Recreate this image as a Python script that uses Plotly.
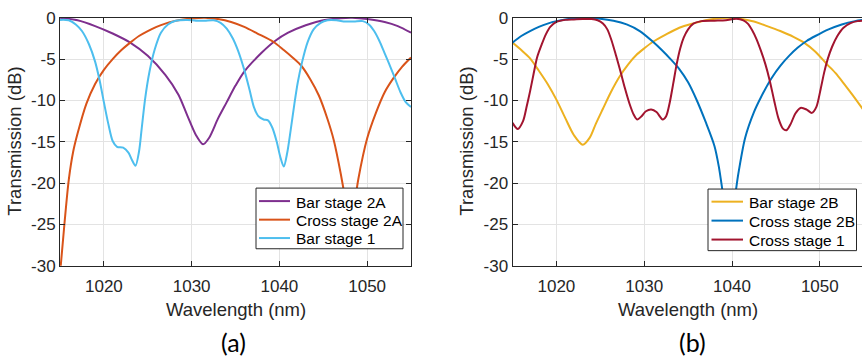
import plotly.graph_objects as go

# ---------------- data ----------------
# Panel (a)
bar2a_x = [1015, 1017, 1019, 1021, 1023, 1025, 1027, 1028.5, 1029.5, 1030.5, 1031.3, 1032, 1033, 1034,
           1035, 1036, 1038, 1039.5, 1041, 1043, 1045, 1047, 1048.3, 1050, 1052, 1053.5, 1055]
bar2a_y = [0, -0.3, -1.0, -1.9, -3.0, -4.6, -6.9, -9.3, -11.8, -14.2, -15.3, -14.5, -12.2, -10.2,
           -8.2, -6.5, -4.2, -2.8, -1.8, -0.9, -0.3, -0.05, 0, -0.15, -0.5, -1.0, -1.8]

cross2a_x = [1015, 1015.5, 1016, 1016.5, 1017, 1018, 1019, 1020, 1021, 1022, 1023, 1024, 1025, 1026,
             1027, 1028, 1029, 1030, 1031.5, 1033, 1034.5, 1036, 1037.5, 1039.3, 1040.5, 1041.5,
             1042.5, 1043.5, 1044.5, 1045.5, 1046.2, 1047, 1047.5, 1048, 1048.5, 1049, 1050, 1051,
             1052, 1053, 1054, 1055]
cross2a_y = [-31, -25, -19.6, -16.2, -14, -10.4, -8.0, -6.3, -5.0, -3.9, -3.0, -2.2, -1.6, -1.1,
             -0.7, -0.4, -0.2, -0.08, 0, -0.15, -0.5, -1.1, -1.9, -2.9, -3.9, -4.8,
             -5.8, -7.4, -9.4, -12.3, -14.8, -18.9, -22, -26, -23, -19.5, -14.6, -11.5,
             -9.0, -7.3, -5.9, -4.8]

bar1_x = [1015, 1016, 1016.8, 1017.5, 1018.3, 1019, 1019.5, 1020, 1020.5, 1021, 1021.5, 1022.2,
          1022.8, 1023.2, 1023.6, 1024, 1024.3, 1024.7, 1025.2, 1025.8, 1026.5, 1027.3, 1028.2,
          1029.5, 1030.5, 1031.5, 1032.5, 1033.3, 1034, 1034.7, 1035.3, 1036, 1036.6, 1037.1,
          1037.6, 1038.2, 1038.7, 1039.2, 1039.7, 1040.1, 1040.5, 1040.9, 1041.3, 1041.7, 1042.1,
          1042.6, 1043.2, 1043.9, 1044.7, 1045.5, 1046.5, 1047.5, 1048.5, 1049.5, 1050.2, 1050.8,
          1051.4, 1052, 1052.6, 1053.2, 1053.8, 1054.4, 1055]
bar1_y = [-0.25, -0.3, -0.8, -1.6, -3.2, -5.3, -7.5, -10.2, -12.8, -14.9, -15.6, -15.7,
          -16.3, -17.2, -17.9, -16.2, -13.5, -9.8, -6.5, -3.8, -1.8, -0.8, -0.35,
          -0.25, -0.35, -0.35, -0.3, -0.6, -1.3, -2.5, -4.0, -6.3, -8.7, -10.8,
          -11.9, -12.3, -12.4, -13.3, -15.0, -16.8, -18.0, -16.3, -13.5, -10.5, -7.8,
          -5.3, -3.0, -1.4, -0.6, -0.3, -0.3, -0.45, -0.45, -0.4, -0.8, -1.6,
          -2.8, -4.3, -5.8, -7.4, -9.0, -10.2, -10.8]

# Panel (b)
bar2b_x = [1015, 1016, 1017, 1018, 1019, 1020, 1021, 1022, 1023, 1023.8, 1024.5, 1025.3, 1026.2,
           1027.2, 1028.2, 1029.1, 1030, 1031, 1032.5, 1034, 1035.5, 1037, 1038.3, 1039.7, 1041,
           1042.5, 1044, 1045.5, 1047, 1048.2, 1049.5, 1050.8, 1051.8, 1052.7, 1053.7, 1055]
bar2b_y = [-3.0, -3.9, -4.9, -6.4, -8.0, -9.9, -12.1, -14.2, -15.35, -14.5, -12.8, -11.0, -9.0,
           -7.1, -5.6, -4.5, -3.7, -2.9, -2.0, -1.2, -0.7, -0.3, -0.08, 0, -0.1,
           -0.45, -1.0, -1.6, -2.3, -3.0, -4.1, -5.6, -6.7, -7.9, -9.3, -11.2]

cross2b_x = [1015, 1016, 1017, 1018, 1019, 1020, 1021, 1022, 1023.5, 1025, 1026.5, 1028, 1029.5,
             1031, 1032, 1033, 1034, 1035, 1036, 1037, 1038, 1038.5, 1039, 1039.7, 1040.3, 1040.7,
             1041.5, 1042.5, 1043.3, 1044.5, 1045.5, 1046.5, 1047.5, 1048.5, 1049.5, 1051, 1052.5,
             1054, 1055]
cross2b_y = [-3.0, -2.2, -1.6, -1.1, -0.7, -0.4, -0.2, -0.05, 0, -0.1, -0.35, -0.8, -1.6,
             -2.9, -3.9, -5.0, -6.2, -7.8, -10.0, -12.6, -15.5, -18, -21.5, -26, -22, -19,
             -14.5, -11.4, -9.6, -7.3, -5.8, -4.6, -3.6, -2.8, -2.2, -1.4, -0.8,
             -0.4, -0.25]

cross1_x = [1015, 1015.6, 1016.2, 1016.6, 1017, 1017.4, 1017.8, 1018.3, 1018.8, 1019.3, 1020, 1021,
            1022, 1023, 1024, 1024.7, 1025.3, 1025.8, 1026.3, 1026.8, 1027.3, 1027.8, 1028.3,
            1028.8, 1029.2, 1029.7, 1030.2, 1030.8, 1031.4, 1032.1, 1032.5, 1032.9, 1033.3,
            1033.7, 1034.1, 1034.5, 1035, 1035.6, 1036.5, 1038, 1039.3, 1040.5, 1041.3, 1041.8,
            1042.3, 1042.8, 1043.3, 1043.8, 1044.3, 1044.8, 1045.3, 1045.8, 1046.2, 1046.7,
            1047.2, 1047.8, 1048.5, 1049.1, 1049.6, 1050.1, 1050.5, 1050.9, 1051.4, 1052,
            1052.7, 1053.5, 1054.3, 1055]
cross1_y = [-12.7, -13.45, -12.5, -10.8, -8.9, -6.8, -4.8, -3.3, -2.0, -1.1, -0.5, -0.25,
            -0.2, -0.15, -0.15, -0.3, -0.7, -1.4, -2.8, -4.6, -6.5, -8.5, -10.3,
            -11.7, -12.3, -11.9, -11.3, -11.1, -11.4, -12.3, -11.9, -10.3, -8.0,
            -5.6, -3.7, -2.4, -1.4, -0.7, -0.4, -0.35, -0.3, -0.1, -0.3, -0.7,
            -1.5, -2.6, -4.0, -5.6, -7.6, -10.0, -12.2, -13.4, -13.6, -12.8,
            -11.6, -10.9, -11.1, -11.5, -10.8, -8.6, -6.6, -5.0, -3.5, -2.2,
            -1.2, -0.65, -0.4, -0.35]

x_ticks = [1020, 1030, 1040, 1050]
y_ticks = [0, -5, -10, -15, -20, -25, -30]
y_tick_labels = ["0", "-5", "-10", "-15", "-20", "-25", "-30"]

names_a = ["Bar stage 2A", "Cross stage 2A", "Bar stage 1"]
names_b = ["Bar stage 2B", "Cross stage 2B", "Cross stage 1"]
colors_a = ["#7E2F8E", "#D95319", "#4DBEEE"]
colors_b = ["#EDB120", "#0072BD", "#A2142F"]

# ---------------- figure ----------------
W, H = 862, 363
fig = go.Figure()

series_a = [(bar2a_x, bar2a_y), (cross2a_x, cross2a_y), (bar1_x, bar1_y)]
series_b = [(bar2b_x, bar2b_y), (cross2b_x, cross2b_y), (cross1_x, cross1_y)]

for (xs, ys), nm, c in zip(series_a, names_a, colors_a):
    fig.add_trace(go.Scatter(x=xs, y=ys, name=nm, mode="lines", showlegend=False,
                             line=dict(color=c, width=2, shape="spline", smoothing=0.8),
                             xaxis="x", yaxis="y"))
for (xs, ys), nm, c in zip(series_b, names_b, colors_b):
    fig.add_trace(go.Scatter(x=xs, y=ys, name=nm, mode="lines", showlegend=False,
                             line=dict(color=c, width=2, shape="spline", smoothing=0.8),
                             xaxis="x2", yaxis="y2"))

axc = "#262626"
tickfont = dict(family="Liberation Sans, Arial, sans-serif", size=17, color=axc)
y_dom = [(H - 271) / H, (H - 9.3) / H]

common_x = dict(tickvals=x_ticks, showgrid=True, gridcolor="#e3e3e3", gridwidth=1,
                ticks="inside", ticklen=5, tickcolor=axc, showline=True, linecolor=axc,
                linewidth=1, tickfont=tickfont, zeroline=False, ticklabelstandoff=5)
common_y = dict(range=[-30, 0], tickvals=y_ticks, ticktext=y_tick_labels, showgrid=True,
                gridcolor="#e3e3e3", gridwidth=1, ticks="inside", ticklen=5, tickcolor=axc,
                showline=True, linecolor=axc, linewidth=1, tickfont=tickfont, zeroline=False,
                domain=y_dom)

fig.update_layout(
    width=W, height=H, margin=dict(l=0, r=0, t=0, b=0),
    paper_bgcolor="white", plot_bgcolor="white",
    xaxis=dict(range=[1015, 1055], domain=[60 / W, 411 / W], anchor="y", mirror="ticks", **common_x),
    yaxis=dict(anchor="x", mirror="ticks", **common_y),
    xaxis2=dict(range=[1015, 1015 + (W - 512.5) / 8.78], domain=[512.5 / W, 1.0], anchor="y2",
                mirror="ticks", **common_x),
    yaxis2=dict(anchor="x2", mirror=False, **common_y),
    showlegend=False,
)

# ---- legend boxes (drawn in paper coordinates, pixel layout) ----
def px(x):
    return x / W


def py(y):
    return 1 - y / H


legfont = dict(family="Liberation Sans, Arial, sans-serif", size=15.5, color="#000000")
legend_specs = [
    # box (x0, y0, x1, y1), line x0, line x1, text x, row ys, names, colours
    ((256, 189, 403, 253), 259, 290, 294, [202.7, 222.3, 241.7], names_a, colors_a),
    ((708, 190, 856.5, 255), 711.5, 743, 746.5, [203.3, 223.3, 243.3], names_b, colors_b),
]
for (bx0, by0, bx1, by1), lx0, lx1, tx, rows, nms, cols in legend_specs:
    fig.add_shape(type="rect", xref="paper", yref="paper", x0=px(bx0), x1=px(bx1),
                  y0=py(by1), y1=py(by0), fillcolor="white", line=dict(color=axc, width=1),
                  layer="above")
    for ry, nm, c in zip(rows, nms, cols):
        fig.add_shape(type="line", xref="paper", yref="paper", x0=px(lx0), x1=px(lx1),
                      y0=py(ry), y1=py(ry), line=dict(color=c, width=2), layer="above")
        fig.add_annotation(xref="paper", yref="paper", x=px(tx), y=py(ry + 1), text=nm,
                           xanchor="left", yanchor="middle", showarrow=False, font=legfont)

titlefont = dict(family="Liberation Sans, Arial, sans-serif", size=18.5, color=axc)
labfont = dict(family="Lato, Open Sans, sans-serif", size=25, color="#000000")
annos = [
    dict(text="Wavelength (nm)", x=235.5 / W, y=1 - 317 / H, font=titlefont, textangle=0),
    dict(text="Wavelength (nm)", x=688 / W, y=1 - 317 / H, font=titlefont, textangle=0),
    dict(text="Transmission (dB)", x=15 / W, y=1 - 140 / H, font=titlefont, textangle=-90),
    dict(text="Transmission (dB)", x=467 / W, y=1 - 140 / H, font=titlefont, textangle=-90),
    dict(text="(a)", x=233 / W, y=1 - 351 / H, font=labfont, textangle=0),
    dict(text="(b)", x=692 / W, y=1 - 351 / H, font=labfont, textangle=0),
]
for a in annos:
    fig.add_annotation(xref="paper", yref="paper", xanchor="center", yanchor="middle",
                       showarrow=False, **a)

fig.write_html("out.html")
